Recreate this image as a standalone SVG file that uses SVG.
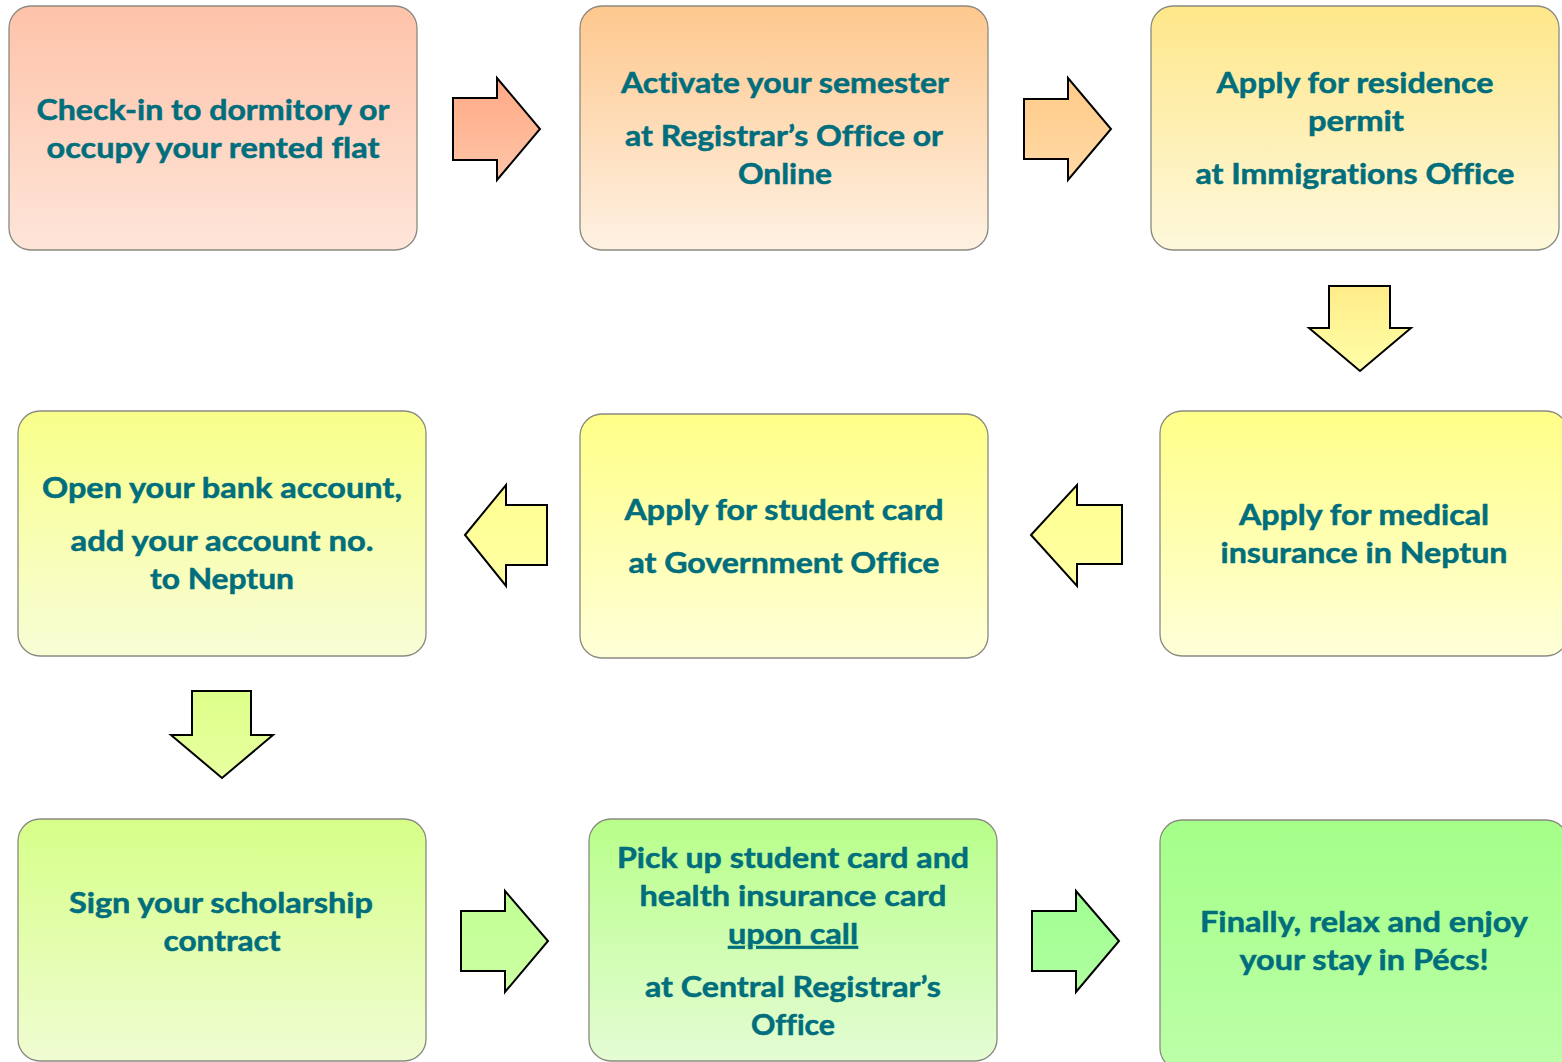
<svg xmlns="http://www.w3.org/2000/svg" width="1562" height="1062" viewBox="0 0 1562 1062">
<style>
.box{stroke:#8a8a80;stroke-width:1.3}
.arr{stroke:#000;stroke-width:2;stroke-linejoin:miter}
text{font-family:Lato,"Open Sans","Liberation Sans",sans-serif;font-weight:bold;font-size:28px;fill:#006e7c;stroke:#006e7c;stroke-width:0.5;text-anchor:middle;font-variant-ligatures:none}
</style>
<defs>
<linearGradient id="g1" x1="0" y1="0" x2="0" y2="1"><stop offset="0" stop-color="#fec3a9"/><stop offset="1" stop-color="#fee5d9"/></linearGradient>
<linearGradient id="g2" x1="0" y1="0" x2="0" y2="1"><stop offset="0" stop-color="#fec88e"/><stop offset="1" stop-color="#fef1e3"/></linearGradient>
<linearGradient id="g3" x1="0" y1="0" x2="0" y2="1"><stop offset="0" stop-color="#fee78a"/><stop offset="1" stop-color="#fef8dc"/></linearGradient>
<linearGradient id="g4" x1="0" y1="0" x2="0" y2="1"><stop offset="0" stop-color="#ffff88"/><stop offset="1" stop-color="#ffffd8"/></linearGradient>
<linearGradient id="g6" x1="0" y1="0" x2="0" y2="1"><stop offset="0" stop-color="#f8ff8a"/><stop offset="1" stop-color="#f8fdd6"/></linearGradient>
<linearGradient id="g7" x1="0" y1="0" x2="0" y2="1"><stop offset="0" stop-color="#d6ff88"/><stop offset="1" stop-color="#f0fcd2"/></linearGradient>
<linearGradient id="g8" x1="0" y1="0" x2="0" y2="1"><stop offset="0" stop-color="#b8ff8a"/><stop offset="1" stop-color="#e4fcd4"/></linearGradient>
<linearGradient id="g9" x1="0" y1="0" x2="0" y2="1"><stop offset="0" stop-color="#a4ff88"/><stop offset="1" stop-color="#bcffa8"/></linearGradient>
<linearGradient id="a1" x1="0" y1="0" x2="0" y2="1"><stop offset="0" stop-color="#ffa884"/><stop offset="1" stop-color="#ffc6a8"/></linearGradient>
<linearGradient id="a2" x1="0" y1="0" x2="0" y2="1"><stop offset="0" stop-color="#ffca88"/><stop offset="1" stop-color="#ffdaa6"/></linearGradient>
<linearGradient id="a3" x1="0" y1="0" x2="0" y2="1"><stop offset="0" stop-color="#ffec88"/><stop offset="1" stop-color="#ffffa8"/></linearGradient>
<linearGradient id="a4" x1="0" y1="0" x2="0" y2="1"><stop offset="0" stop-color="#ffff90"/><stop offset="1" stop-color="#ffffa4"/></linearGradient>
<linearGradient id="a6" x1="0" y1="0" x2="0" y2="1"><stop offset="0" stop-color="#dcff88"/><stop offset="1" stop-color="#e8ffa0"/></linearGradient>
<linearGradient id="a7" x1="0" y1="0" x2="0" y2="1"><stop offset="0" stop-color="#c0ff92"/><stop offset="1" stop-color="#ccffa4"/></linearGradient>
<linearGradient id="a8" x1="0" y1="0" x2="0" y2="1"><stop offset="0" stop-color="#a0ff90"/><stop offset="1" stop-color="#b0ffa0"/></linearGradient>
</defs>
<rect width="1562" height="1062" fill="#ffffff"/>
<g id="connectors">
<polygon class="arr" fill="url(#a1)" points="453,98 497,98 497,78 540,129 497,180 497,160 453,160"/>
<polygon class="arr" fill="url(#a2)" points="1024,99 1068,99 1068,78 1111,129 1068,180 1068,159 1024,159"/>
<polygon class="arr" fill="url(#a3)" points="1329,286 1390,286 1390,328 1411,328 1360,371 1309,328 1329,328"/>
<polygon class="arr" fill="url(#a4)" points="1031,535 1077,485 1077,505 1122,505 1122,564 1077,564 1077,586"/>
<polygon class="arr" fill="url(#a4)" points="465,535 506,485 506,505 547,505 547,565 506,565 506,586"/>
<polygon class="arr" fill="url(#a6)" points="192,691 251,691 251,735 273,735 222,778 171,735 192,735"/>
<polygon class="arr" fill="url(#a7)" points="461,911 505,911 505,891 548,941 505,992 505,971 461,971"/>
<polygon class="arr" fill="url(#a8)" points="1032,911 1076,911 1076,891 1119,941 1076,992 1076,971 1032,971"/>
</g>
<g id="n1">
<rect class="box" x="9" y="6" width="408" height="244" rx="22" fill="url(#g1)"/>
<text x="213" y="120" textLength="353" lengthAdjust="spacingAndGlyphs">Check-in to dormitory or</text>
<text x="213" y="158" textLength="333" lengthAdjust="spacingAndGlyphs">occupy your rented flat</text>
</g>
<g id="n2">
<rect class="box" x="580" y="6" width="408" height="244" rx="22" fill="url(#g2)"/>
<text x="785" y="93" textLength="328" lengthAdjust="spacingAndGlyphs">Activate your semester</text>
<text x="784" y="146" textLength="318" lengthAdjust="spacingAndGlyphs">at Registrar’s Office or</text>
<text x="785" y="184" textLength="94" lengthAdjust="spacingAndGlyphs">Online</text>
</g>
<g id="n3">
<rect class="box" x="1151" y="6" width="408" height="244" rx="22" fill="url(#g3)"/>
<text x="1355" y="93" textLength="277" lengthAdjust="spacingAndGlyphs">Apply for residence</text>
<text x="1356" y="131" textLength="96" lengthAdjust="spacingAndGlyphs">permit</text>
<text x="1355" y="184" textLength="319" lengthAdjust="spacingAndGlyphs">at Immigrations Office</text>
</g>
<g id="n4">
<rect class="box" x="1160" y="411" width="408" height="245" rx="22" fill="url(#g4)"/>
<text x="1364" y="525" textLength="250" lengthAdjust="spacingAndGlyphs">Apply for medical</text>
<text x="1364" y="563" textLength="287" lengthAdjust="spacingAndGlyphs">insurance in Neptun</text>
</g>
<g id="n5">
<rect class="box" x="580" y="414" width="408" height="244" rx="22" fill="url(#g4)"/>
<text x="784" y="520" textLength="319" lengthAdjust="spacingAndGlyphs">Apply for student card</text>
<text x="784" y="573" textLength="311" lengthAdjust="spacingAndGlyphs">at Government Office</text>
</g>
<g id="n6">
<rect class="box" x="18" y="411" width="408" height="245" rx="22" fill="url(#g6)"/>
<text x="222" y="498" textLength="360" lengthAdjust="spacingAndGlyphs">Open your bank account,</text>
<text x="222" y="551" textLength="303" lengthAdjust="spacingAndGlyphs">add your account no.</text>
<text x="222" y="589" textLength="144" lengthAdjust="spacingAndGlyphs">to Neptun</text>
</g>
<g id="n7">
<rect class="box" x="18" y="819" width="408" height="242" rx="22" fill="url(#g7)"/>
<text x="221" y="913" textLength="304" lengthAdjust="spacingAndGlyphs">Sign your scholarship</text>
<text x="222" y="951" textLength="117" lengthAdjust="spacingAndGlyphs">contract</text>
</g>
<g id="n8">
<rect class="box" x="589" y="819" width="408" height="242" rx="22" fill="url(#g8)"/>
<text x="793" y="868" textLength="352" lengthAdjust="spacingAndGlyphs">Pick up student card and</text>
<text x="793" y="906" textLength="307" lengthAdjust="spacingAndGlyphs">health insurance card</text>
<text x="793" y="944" textLength="130" lengthAdjust="spacingAndGlyphs" text-decoration="underline">upon call</text>
<text x="793" y="997" textLength="296" lengthAdjust="spacingAndGlyphs">at Central Registrar’s</text>
<text x="793" y="1035" textLength="84" lengthAdjust="spacingAndGlyphs">Office</text>
</g>
<g id="n9">
<rect class="box" x="1160" y="820" width="408" height="250" rx="22" fill="url(#g9)"/>
<text x="1364" y="932" textLength="328" lengthAdjust="spacingAndGlyphs">Finally, relax and enjoy</text>
<text x="1364" y="970" textLength="249" lengthAdjust="spacingAndGlyphs">your stay in Pécs!</text>
</g>
</svg>
